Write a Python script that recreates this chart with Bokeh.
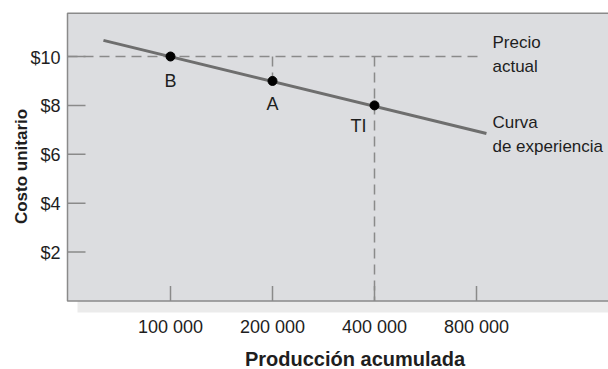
import math
from bokeh.plotting import figure
from bokeh.models import Range1d
from bokeh.core.properties import value
from bokeh.embed import file_html
from bokeh.resources import INLINE

# ---- data ----
x_ticks = [100000, 200000, 400000, 800000]
x_tick_labels = ["100 000", "200 000", "400 000", "800 000"]
y_ticks = [2, 4, 6, 8, 10]
y_tick_labels = ["$2", "$4", "$6", "$8", "$10"]

curve_x = [63400, 856000]
curve_y = [10.66, 6.85]

point_x = [100000, 200000, 400000]
point_y = [10, 9, 8]
point_labels = ["B", "A", "TI"]

current_price = 10
price_line_end = 828000

x_title = "Producción acumulada"
y_title = "Costo unitario"

FONT = value("Liberation Sans")
GREY = "#8a8a8a"
TEXT = "#1e1e1e"

# ---- layout helpers (canvas px -> data) ----
def px_to_x(px):
    return 100000 * 2 ** ((px - 170) / 102.0)

def px_to_y(py):
    return (300.5 - py) / 24.45

W, H = 608, 369
p = figure(width=W, height=H, x_axis_type="log",
           x_range=Range1d(px_to_x(0), px_to_x(W)),
           y_range=Range1d(px_to_y(H), px_to_y(0)),
           output_backend="svg", toolbar_location=None,
           min_border_left=0, min_border_right=0,
           min_border_top=0, min_border_bottom=0)
p.outline_line_color = None
p.grid.visible = False
p.xaxis.visible = False
p.yaxis.visible = False
p.background_fill_color = "white"
p.border_fill_color = "white"

XR = px_to_x(W + 40)

# light band below the axis
p.quad(left=px_to_x(77), right=XR, bottom=px_to_y(312), top=0,
       fill_color="#ebebeb", line_color=None)
# plot panel
p.quad(left=px_to_x(67), right=XR, bottom=0, top=px_to_y(12.75),
       fill_color="#dcdde0", line_color=GREY, line_width=1.5)

# x ticks (inward)
p.segment(x0=x_ticks, y0=[0] * len(x_ticks), x1=x_ticks,
          y1=[15 / 24.45] * len(x_ticks), line_color=GREY, line_width=1.5)
# y ticks (inward)
p.segment(x0=[px_to_x(67)] * len(y_ticks), y0=y_ticks,
          x1=[px_to_x(85)] * len(y_ticks), y1=y_ticks,
          line_color=GREY, line_width=1.5)

# dashed guides
p.line(x=[px_to_x(67), price_line_end], y=[current_price, current_price],
       line_color=GREY, line_width=1.5, line_dash="10 6")
p.line(x=[point_x[1], point_x[1]], y=[current_price, point_y[1]],
       line_color=GREY, line_width=1.5, line_dash="10 6")
p.line(x=[point_x[2], point_x[2]], y=[current_price, 0],
       line_color=GREY, line_width=1.5, line_dash="10 6")

# experience curve
p.line(x=curve_x, y=curve_y, line_color="#6e6e6e", line_width=3)
p.scatter(x=point_x, y=point_y, size=9, fill_color="black", line_color="black")

p.text(x=point_x, y=point_y, text=point_labels, x_offset=[0, 0, -16],
       y_offset=[24, 23, 21], text_align="center", text_baseline="alphabetic",
       text_font=FONT, text_font_size="18px", text_color=TEXT)

lab_x = curve_x[1]
p.text(x=[lab_x] * 4,
       y=[current_price, current_price, curve_y[1], curve_y[1]],
       text=["Precio", "actual", "Curva", "de experiencia"],
       x_offset=[6, 6, 6, 6], y_offset=[-14, 10, -11, 13],
       text_align="left", text_baseline="alphabetic",
       text_font=FONT, text_font_size="17px", text_color=TEXT)

# tick labels
p.text(x=[px_to_x(60)] * len(y_ticks), y=y_ticks, text=y_tick_labels,
       y_offset=[1] * len(y_ticks), text_align="right", text_baseline="alphabetic",
       text_font=FONT, text_font_size="18px", text_color=TEXT)
p.text(x=x_ticks, y=[0] * len(x_ticks), text=x_tick_labels,
       y_offset=[25.5] * len(x_ticks), text_align="center", text_baseline="alphabetic",
       text_font=FONT, text_font_size="18px", text_color=TEXT)

# axis titles
p.text(x=[px_to_x(354.5)], y=[0], text=[x_title], y_offset=[58],
       text_align="center", text_baseline="alphabetic",
       text_font=FONT, text_font_style="bold", text_font_size="20px", text_color=TEXT)
p.text(x=[px_to_x(21)], y=[px_to_y(166)], text=[y_title], angle=[math.pi / 2],
       text_align="center", text_baseline="alphabetic",
       text_font=FONT, text_font_style="bold", text_font_size="17px", text_color=TEXT)

open("out.html", "w").write(file_html(p, INLINE))
